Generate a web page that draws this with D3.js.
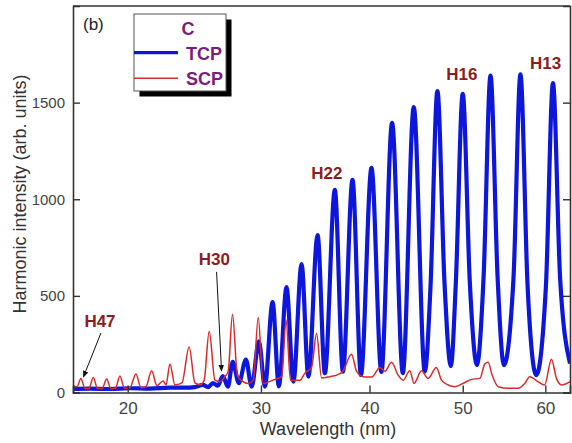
<!DOCTYPE html>
<html><head><meta charset="utf-8">
<script src="https://cdn.jsdelivr.net/npm/d3@7"></script>
<style>body{margin:0;background:#fff} svg{display:block}</style>
</head><body><svg id="chart" width="572" height="443"></svg>
<script>
// ---------- data ----------
const waveTicks = [20, 30, 40, 50, 60];
const intensityTicks = [0, 500, 1000, 1500];

// TCP (blue) spectrum
const tcpWavelength = [16.58,17.60,18.85,20.15,21.50,22.91,24.00,24.74,25.35,25.73,26.12,26.50,26.89,27.29,27.68,28.17,28.75,29.22,29.83,30.33,30.99,31.53,32.20,32.81,33.54,34.16,35.00,35.68,36.62,37.39,38.32,39.15,40.20,41.20,42.30,43.42,44.58,45.77,46.39,47.15,47.94,48.65,49.21,50.00,50.82,51.64,52.42,53.24,54.09,54.85,56.02,56.87,57.75,58.85,60.07,60.98,61.91,63.2];
const tcpIntensity  = [18,20,18,22,20,25,25,28,39,28,49,35,85,30,158,49,170,30,265,30,468,32,545,56,665,82,815,100,1048,108,1100,90,1162,106,1395,100,1477,108,547,1560,567,137,563,1546,566,142,594,1640,594,142,596,1646,560,90,546,1601,588,150];

// SCP (red) spectrum
const scpWavelength = [16.58,16.82,17.05,17.29,17.54,17.80,18.06,18.35,18.64,18.91,19.20,19.49,19.79,20.15,20.55,20.89,21.23,21.62,21.99,22.42,22.63,22.91,23.27,23.78,24.31,24.74,25.12,25.43,25.83,26.27,26.66,27.05,27.31,27.66,28.05,28.42,28.94,29.36,29.77,30.19,31.02,31.77,32.17,32.54,33.39,33.84,34.45,34.91,35.37,36.15,36.78,37.39,38.22,38.72,39.34,40.23,41.05,41.56,42.24,42.93,43.46,44.16,44.61,45.41,46.13,47.04,47.60,48.34,49.10,50.03,51.02,51.99,52.57,52.96,53.43,54.16,55.37,56.58,57.41,58.03,59.07,59.91,60.78,61.43,62.10,63.2];
const scpIntensity  = [35,30,72,22,20,78,22,20,70,20,22,86,22,25,96,25,30,112,35,60,40,148,40,50,236,50,40,60,317,64,56,82,108,405,90,60,47,64,388,47,64,82,375,64,64,100,130,305,75,82,90,110,198,110,82,80,130,110,156,90,64,112,47,112,73,130,64,39,30,47,68,73,148,156,90,30,22,22,47,82,56,39,172,73,39,56];

// harmonic annotations
const harmonicLabels   = ["H47", "H30", "H22", "H16", "H13"];
const labelWavelength  = [18.22, 26.23, 35.87, 49.90, 60.03];
const labelIntensity   = [339, 660, 1104, 1617, 1672];
const arrowLabels      = ["H47", "H30"];
const arrowStartWave   = [18.28, 26.40];
const arrowStartInt    = [308, 624];
const arrowEndWave     = [17.20, 26.79];
const arrowEndInt      = [80, 111];

const seriesNames = ["TCP", "SCP"];

// ---------- drawing ----------
(function () {
const svg = d3.select("#chart");
const W = 572, H = 443;
const mLeft = 73, mRight = 570, mTop = 6, mBottom = 392.5;
const FONT = "'Liberation Sans', Arial, Helvetica, sans-serif";

const x = d3.scalePow().exponent(0.4).domain([16.58, 63.2]).range([mLeft, mRight]);
const y = d3.scaleLinear().domain([0, 2000]).range([mBottom, mTop]);

svg.append("rect").attr("width", W).attr("height", H).attr("fill", "#fff");

const defs = svg.append("defs");
defs.append("clipPath").attr("id", "plotclip")
  .append("rect").attr("x", mLeft).attr("y", mTop).attr("width", mRight - mLeft).attr("height", mBottom - mTop);
defs.append("marker").attr("id", "arrowhead")
  .attr("viewBox", "0 0 10 10").attr("refX", 9).attr("refY", 5)
  .attr("markerWidth", 7).attr("markerHeight", 7).attr("markerUnits", "userSpaceOnUse")
  .attr("orient", "auto")
  .append("path").attr("d", "M0,1 L10,5 L0,9 Z").attr("fill", "#111");

const line = d3.line().curve(d3.curveMonotoneX)
  .x(d => x(d[0])).y(d => y(d[1]));

const tcp = tcpWavelength.map((w, i) => [w, tcpIntensity[i]]);
const scp = scpWavelength.map((w, i) => [w, scpIntensity[i]]);

const plot = svg.append("g").attr("clip-path", "url(#plotclip)");
plot.append("path").datum(tcp).attr("d", line)
  .attr("fill", "none").attr("stroke", "#0c16dc").attr("stroke-width", 4.2)
  .attr("stroke-linejoin", "round");
plot.append("path").datum(scp).attr("d", line)
  .attr("fill", "none").attr("stroke", "#d92b2b").attr("stroke-width", 1.5)
  .attr("stroke-linejoin", "round");

// axes
const axisColor = "#333";
const gx = svg.append("g").attr("transform", `translate(0,${mBottom})`)
  .call(d3.axisBottom(x).tickValues(waveTicks).tickSize(-7).tickPadding(9).tickFormat(d3.format("d")));
const gy = svg.append("g").attr("transform", `translate(${mLeft},0)`)
  .call(d3.axisLeft(y).tickValues(intensityTicks).tickSize(-7).tickPadding(8).tickFormat(d3.format("d")));
const gr = svg.append("g").attr("transform", `translate(${mRight},0)`)
  .call(d3.axisRight(y).tickValues(intensityTicks).tickSize(-7).tickFormat(""));
[gx, gy, gr].forEach(g => {
  g.select(".domain").attr("stroke", axisColor).attr("stroke-width", 1.6);
  g.selectAll(".tick line").attr("stroke", axisColor).attr("stroke-width", 1.4);
});
gx.selectAll(".tick text").attr("font-family", FONT).attr("font-size", 17).attr("fill", "#444");
gy.selectAll(".tick text").attr("font-family", FONT).attr("font-size", 15).attr("fill", "#444");
svg.append("line").attr("x1", mLeft).attr("x2", mRight).attr("y1", mTop).attr("y2", mTop)
  .attr("stroke", axisColor).attr("stroke-width", 1.6);

// axis titles
svg.append("text").attr("x", 328).attr("y", 435).attr("text-anchor", "middle")
  .attr("font-family", FONT).attr("font-size", 18).attr("fill", "#333").text("Wavelength (nm)");
svg.append("text").attr("transform", "translate(26,194) rotate(-90)").attr("text-anchor", "middle")
  .attr("font-family", FONT).attr("font-size", 18).attr("fill", "#333").text("Harmonic intensity (arb. units)");

// panel tag
svg.append("text").attr("x", 83).attr("y", 30).attr("font-family", FONT).attr("font-size", 17)
  .attr("fill", "#222").text("(b)");

// annotations
const annColor = "#8b1d22";
harmonicLabels.forEach((t, i) => {
  svg.append("text").attr("x", x(labelWavelength[i])).attr("y", y(labelIntensity[i]))
    .attr("text-anchor", "middle").attr("font-family", FONT).attr("font-weight", "bold")
    .attr("font-size", 17).attr("fill", annColor).text(t);
});
arrowLabels.forEach((t, i) => {
  svg.append("line")
    .attr("x1", x(arrowStartWave[i])).attr("y1", y(arrowStartInt[i]))
    .attr("x2", x(arrowEndWave[i])).attr("y2", y(arrowEndInt[i]))
    .attr("stroke", "#111").attr("stroke-width", 1).attr("marker-end", "url(#arrowhead)");
});

// legend
const lg = svg.append("g");
lg.append("rect").attr("x", 139.5).attr("y", 19.5).attr("width", 92).attr("height", 77).attr("fill", "#000");
lg.append("rect").attr("x", 134).attr("y", 14).attr("width", 92).attr("height", 77)
  .attr("fill", "#fff").attr("stroke", "#555").attr("stroke-width", 1);
const legColor = "#7b1c80";
lg.append("text").attr("x", 188).attr("y", 35).attr("text-anchor", "middle")
  .attr("font-family", FONT).attr("font-weight", "bold").attr("font-size", 18).attr("fill", legColor).text("C");
const legendStroke = ["#0c16dc", "#d92b2b"];
const legendWidth = [3.2, 1.5];
const legendY = [52.7, 78.3];
seriesNames.forEach((s, i) => {
  lg.append("line").attr("x1", 134).attr("x2", 178).attr("y1", legendY[i]).attr("y2", legendY[i])
    .attr("stroke", legendStroke[i]).attr("stroke-width", legendWidth[i]);
  lg.append("text").attr("x", 186).attr("y", legendY[i] + 7).attr("font-family", FONT)
    .attr("font-weight", "bold").attr("font-size", 18).attr("fill", legColor).text(s);
});
})();
</script>
</body></html>
